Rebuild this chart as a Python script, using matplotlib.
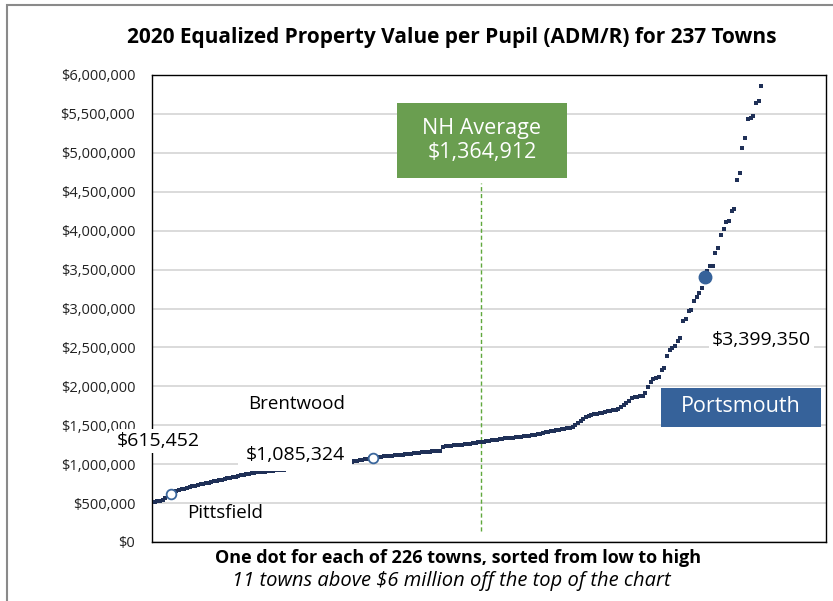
"""
2020 equalized property value per pupil, one dot per town, sorted low to high.
"""

import matplotlib.pyplot as plt
from matplotlib.patches import Rectangle
from matplotlib.ticker import FuncFormatter

plt.rcParams['font.family'] = ['Open Sans', 'DejaVu Sans']

# --- Data (thousands of dollars, sorted) ---
values_k = [
    515, 522, 530, 545, 560, 585, 615.452, 640, 660, 668,
    677, 686, 695, 704, 714, 724, 734, 743, 750, 757,
    764, 771, 778, 785, 793, 801, 809, 817, 825, 833,
    841, 849, 857, 865, 873, 880, 885, 889, 893, 897,
    901, 905, 909, 913, 918, 923, 925, 928, 930, 933,
    935, 938, 940, 943, 946, 949, 953, 958, 962, 967,
    972, 976, 981, 986, 991, 995, 1000, 1005, 1010, 1015,
    1020, 1025, 1030, 1034, 1040, 1046, 1052, 1058, 1064, 1070,
    1077, 1085.324, 1089, 1092, 1096, 1099, 1103, 1106, 1110, 1113,
    1116, 1120, 1124, 1127, 1131, 1135, 1139, 1142, 1146, 1150,
    1153, 1157, 1161, 1164, 1168, 1171, 1175, 1222, 1228, 1232,
    1236, 1240, 1244, 1248, 1252, 1256, 1260, 1264, 1270, 1275,
    1280, 1285, 1290, 1295, 1300, 1305, 1310, 1315, 1320, 1325,
    1330, 1334, 1338, 1342, 1346, 1350, 1355, 1360, 1364, 1368,
    1373, 1380, 1387, 1394, 1401, 1408, 1415, 1422, 1429, 1436,
    1443, 1450, 1457, 1464, 1471, 1479, 1505, 1530, 1558, 1585,
    1605, 1620, 1630, 1640, 1648, 1655, 1662, 1670, 1678, 1685,
    1690, 1700, 1715, 1730, 1755, 1785, 1815, 1855, 1860, 1866,
    1871, 1875, 1914, 1987, 2060, 2100, 2107, 2115, 2210, 2236,
    2395, 2468, 2494, 2524, 2579, 2623, 2836, 2867, 2974, 2983,
    3094, 3146, 3197, 3266, 3399.350, 3480, 3540, 3545, 3717, 3780,
    3950, 4026, 4116, 4120, 4258, 4283, 4657, 4747, 5056, 5185,
    5430, 5442, 5472, 5636, 5662, 5855,
]
values = [v * 1000 for v in values_k]
ranks = list(range(1, len(values) + 1))

pittsfield_rank, pittsfield_value = 7, 615452
brentwood_rank, brentwood_value = 82, 1085324
portsmouth_rank, portsmouth_value = 205, 3399350
nh_avg_rank, nh_avg_value = 122, 1364912

dot_color = '#1f3057'
marker_blue = '#3a669c'
box_blue = '#36629a'
box_green = '#6a9e50'

fig = plt.figure(figsize=(8.33, 6.01), dpi=100)
ax = fig.add_axes([152 / 833, 1 - 542 / 601, 674 / 833, 467 / 601])

# frame around the whole figure
fig.patches.append(Rectangle((7 / 833, -0.1), 1.2, 1 - 5 / 601 + 0.1,
                             transform=fig.transFigure, fill=False,
                             edgecolor='#8a8a8a', linewidth=1.5))

ax.scatter(ranks, values, marker='s', s=6, color=dot_color, linewidths=0, zorder=3)

# highlighted towns
ax.plot(pittsfield_rank, pittsfield_value, 'o', ms=7, mfc='white', mec=marker_blue,
        mew=1.3, zorder=4)
ax.plot(brentwood_rank, brentwood_value, 'o', ms=7, mfc='white', mec=marker_blue,
        mew=1.3, zorder=4)
ax.plot(portsmouth_rank, portsmouth_value, 'o', ms=9, color=box_blue, zorder=4)

# NH average marker line and box
ax.plot([nh_avg_rank, nh_avg_rank], [0.14e6, 4.61e6], color='#5fa83c',
        linestyle=(0, (3, 2)), linewidth=1.0, zorder=2)
ax.add_patch(Rectangle((90.7, 4.674e6), 63.4, 0.965e6, facecolor=box_green,
                       edgecolor='none', zorder=5))
ax.text(122.4, 5.157e6, f'NH Average\n${nh_avg_value:,}', color='white',
        fontsize=15.5, ha='center', va='center', linespacing=1.2, zorder=6)

# Portsmouth box
ax.add_patch(Rectangle((188.9, 1.481e6), 59.2, 0.502e6, facecolor=box_blue,
                       edgecolor='none', zorder=5, clip_on=False))
ax.text(218.5, 1.735e6, 'Portsmouth', color='white', fontsize=15.5,
        ha='center', va='center', zorder=6)

ax.text(2.2, 1.30e6, f'${pittsfield_value:,}', fontsize=14, ha='center',
        va='center', bbox=dict(facecolor='white', edgecolor='none', pad=2),
        zorder=6, clip_on=False)
ax.text(27, 0.373e6, 'Pittsfield', fontsize=13.5, ha='center', va='center', zorder=6)
ax.text(53, 1.12e6, f'${brentwood_value:,}', fontsize=14, ha='center',
        va='center', bbox=dict(facecolor='white', edgecolor='none', pad=5),
        zorder=6)
ax.text(53.7, 1.777e6, 'Brentwood', fontsize=13.5, ha='center', va='center', zorder=6)
ax.text(226, 2.60e6, f'${portsmouth_value:,}', fontsize=14, ha='center',
        va='center', bbox=dict(facecolor='white', edgecolor='none', pad=2),
        zorder=6)

ax.set_xlim(0, 250)
ax.set_ylim(0, 6e6)
ax.set_yticks(range(0, 6000001, 500000))
ax.yaxis.set_major_formatter(FuncFormatter(lambda v, _: f'${v:,.0f}'))
ax.tick_params(axis='y', length=0, pad=12, labelsize=10.5, labelcolor='#222222')
ax.set_xticks([])
ax.grid(axis='y', color='#d4d4d4', linewidth=1.2)
ax.set_axisbelow(True)
for sp in ax.spines.values():
    sp.set_linewidth(1.0)
    sp.set_color('black')

fig.text(452 / 833, 1 - 37 / 601,
         '2020 Equalized Property Value per Pupil (ADM/R) for 237 Towns',
         fontsize=15, fontweight='bold', ha='center', va='center')
fig.text(458 / 833, 1 - 558 / 601,
         'One dot for each of 226 towns, sorted from low to high',
         fontsize=13, fontweight='bold', ha='center', va='center')
fig.text(451 / 833, 1 - 581 / 601,
         '11 towns above $6 million off the top of the chart',
         fontsize=14.5, style='italic', ha='center', va='center')

fig.savefig('out.png', dpi=100)
